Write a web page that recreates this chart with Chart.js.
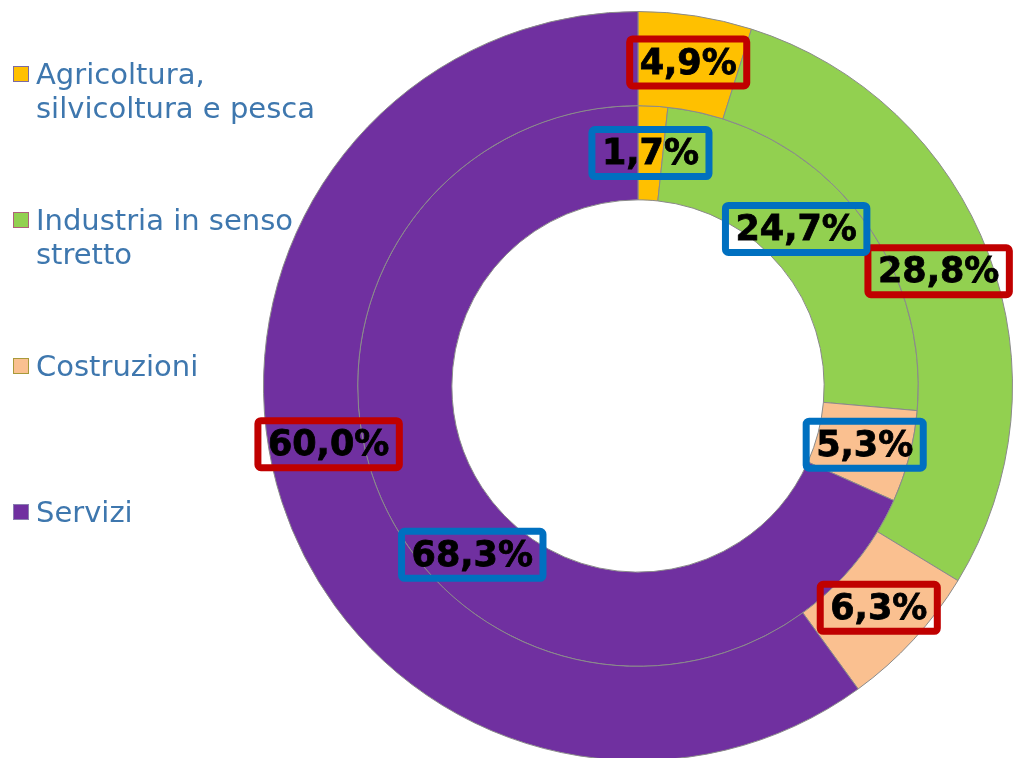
<!DOCTYPE html>
<html>
<head>
<meta charset="utf-8">
<script src="https://cdn.jsdelivr.net/npm/chart.js@4"></script>
<style>
  html, body { margin: 0; padding: 0; background: #fff; overflow: hidden; }
  #wrap { width: 1014px; height: 758px; overflow: hidden; position: relative; }
</style>
</head>
<body>
<div id="wrap"><canvas id="ourPie" width="1014" height="762"></canvas></div>
<script>
// settori
var categories = [
    ["Agricoltura,", "silvicoltura e pesca"],
    ["Industria in senso", "stretto"],
    ["Costruzioni"],
    ["Servizi"]
];
// anello esterno (riquadri rossi) e interno (riquadri blu), valori in %
var outerValues = [4.9, 28.8, 6.3, 60.0];
var innerValues = [1.7, 24.7, 5.3, 68.3];

var sliceColors = ['#FFC000', '#92D050', '#FAC090', '#7030A0'];
var legendBorders = ['#7b6ba3', '#b0607a', '#a89a3a', '#8a7fb0'];
var boxColors = ['#C00000', '#0070C0'];

// spostamento delle etichette rispetto al centro dello spicchio
var labelShift = [
    [[0, 0], [-6, 0], [0, 0], [2, -43]],
    [[0, 0], [-22, -9], [1, 0], [30, 42]]
];

function fmt(v) {
    return v.toFixed(1).replace('.', ',') + '%';
}

var boxLabels = {
    id: 'boxLabels',
    afterDatasetsDraw: function (chart) {
        var ctx = chart.ctx;
        ctx.save();
        ctx.font = 'bold 35px "DejaVu Sans"';
        ctx.textAlign = 'center';
        ctx.textBaseline = 'middle';
        chart.data.datasets.forEach(function (ds, di) {
            var meta = chart.getDatasetMeta(di);
            meta.data.forEach(function (arc, i) {
                var p = arc.tooltipPosition();
                var x = p.x + labelShift[di][i][0];
                var y = p.y + labelShift[di][i][1];
                var txt = fmt(ds.data[i]);
                var w = ctx.measureText(txt).width + 20;
                var h = 47;
                ctx.lineWidth = 7;
                ctx.strokeStyle = boxColors[di];
                ctx.beginPath();
                ctx.roundRect(x - w / 2, y - h / 2, w, h, 3);
                ctx.stroke();
                ctx.fillStyle = '#000';
                ctx.lineWidth = 0.8;
                ctx.strokeStyle = '#000';
                ctx.fillText(txt, x, y + 2);
                ctx.strokeText(txt, x, y + 2);
            });
        });
        ctx.restore();
    }
};

var sideLegend = {
    id: 'sideLegend',
    afterDraw: function (chart) {
        var ctx = chart.ctx;
        ctx.save();
        ctx.font = '29px "DejaVu Sans"';
        ctx.textAlign = 'left';
        ctx.textBaseline = 'alphabetic';
        chart.data.labels.forEach(function (lines, i) {
            var base = 84 + i * 146;
            ctx.fillStyle = sliceColors[i];
            ctx.fillRect(13, base - 18, 16, 16);
            ctx.lineWidth = 1;
            ctx.strokeStyle = legendBorders[i];
            ctx.strokeRect(13.5, base - 17.5, 15, 15);
            ctx.fillStyle = '#3e77ae';
            lines.forEach(function (line, j) {
                ctx.fillText(line, 36, base + j * 34);
            });
        });
        ctx.restore();
    }
};

var chartPie = new Chart(document.getElementById('ourPie'), {
    type: 'doughnut',
    data: {
        labels: categories,
        datasets: [
            {
                label: 'Anello esterno',
                data: outerValues,
                backgroundColor: sliceColors,
                borderColor: '#8a8a8a',
                borderWidth: 1
            },
            {
                label: 'Anello interno',
                data: innerValues,
                backgroundColor: sliceColors,
                borderColor: '#8a8a8a',
                borderWidth: 1
            }
        ]
    },
    options: {
        responsive: false,
        animation: false,
        cutout: '49.7%',
        layout: {
            padding: { left: 263, top: 11, right: 1, bottom: 1 }
        },
        plugins: {
            legend: { display: false },
            tooltip: { enabled: false }
        }
    },
    plugins: [boxLabels, sideLegend]
});
</script>
</body>
</html>
